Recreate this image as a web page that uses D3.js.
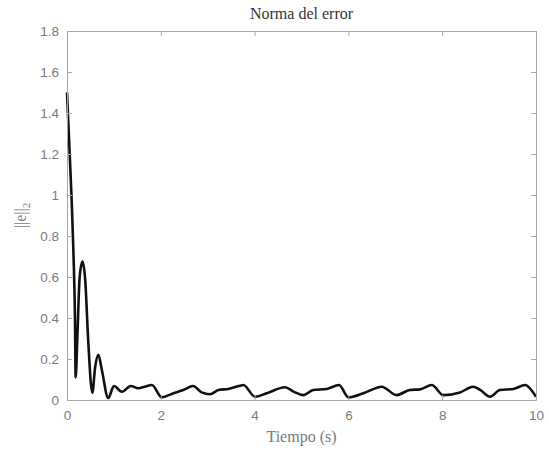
<!DOCTYPE html>
<html><head><meta charset="utf-8">
<script src="https://cdn.jsdelivr.net/npm/d3@7"></script>
<style>body{margin:0;background:#fff}</style>
</head><body>
<svg id="c" width="549" height="457"></svg>
<script>
const title = "Norma del error";
const xLabel = "Tiempo (s)";
const xTicks = [0, 2, 4, 6, 8, 10];
const yTicks = [0, 0.2, 0.4, 0.6, 0.8, 1, 1.2, 1.4, 1.6, 1.8];
const timeValues = [0, 0.05, 0.10, 0.14, 0.17, 0.185, 0.22, 0.27, 0.33, 0.39, 0.45, 0.54, 0.60, 0.67, 0.74, 0.88, 1.0, 1.17, 1.36, 1.52, 1.66, 1.81, 2.02, 2.27, 2.48, 2.69, 2.87, 3.05, 3.23, 3.44, 3.69, 3.76, 4.01, 4.26, 4.65, 4.83, 5.04, 5.25, 5.54, 5.80, 6.0, 6.32, 6.71, 7.03, 7.31, 7.53, 7.78, 8.02, 8.38, 8.66, 8.81, 9.02, 9.23, 9.52, 9.77, 9.87, 10.0];
const errorValues = [1.50, 1.24, 0.97, 0.70, 0.40, 0.11, 0.30, 0.60, 0.675, 0.58, 0.30, 0.035, 0.16, 0.22, 0.15, 0.01, 0.068, 0.04, 0.068, 0.057, 0.065, 0.073, 0.013, 0.033, 0.049, 0.068, 0.037, 0.028, 0.049, 0.054, 0.070, 0.073, 0.016, 0.033, 0.062, 0.041, 0.024, 0.049, 0.054, 0.073, 0.013, 0.033, 0.065, 0.024, 0.049, 0.052, 0.073, 0.024, 0.037, 0.065, 0.049, 0.016, 0.049, 0.054, 0.073, 0.057, 0.016];

const svg = d3.select("#c");
const L = 67, R = 536, T = 31, B = 400;
const x = d3.scaleLinear().domain([0, 10]).range([L, R]);
const y = d3.scaleLinear().domain([0, 1.8]).range([B, T]);
const axisCol = "#a6a6a6", labCol = "#7a7a7a";

svg.append("rect").attr("x", L).attr("y", T).attr("width", R - L).attr("height", B - T)
  .attr("fill", "#fff");

const data = timeValues.map((t, i) => [t, errorValues[i]]);
svg.append("path").datum(data)
  .attr("fill", "none").attr("stroke", "#111").attr("stroke-width", 2.6)
  .attr("stroke-linejoin", "round")
  .attr("d", d3.line().x(d => x(d[0])).y(d => y(d[1])).curve(d3.curveMonotoneX));

function styleAxis(g, noLabels) {
  g.select(".domain").attr("stroke", axisCol);
  g.selectAll(".tick line").attr("stroke", axisCol);
  g.selectAll(".tick text").attr("fill", labCol)
    .attr("font-family", "'Liberation Sans', Arial, sans-serif").attr("font-size", 13.5);
  if (noLabels) g.selectAll(".tick text").remove();
}
const fmt = d => String(d);
svg.append("g").attr("transform", `translate(0,${B})`)
  .call(d3.axisBottom(x).tickValues(xTicks).tickFormat(fmt).tickSizeInner(-5).tickSizeOuter(0).tickPadding(10))
  .call(g => styleAxis(g));
svg.append("g").attr("transform", `translate(0,${T})`)
  .call(d3.axisTop(x).tickValues(xTicks).tickSizeInner(-5).tickSizeOuter(0))
  .call(g => styleAxis(g, true));
svg.append("g").attr("transform", `translate(${L},0)`)
  .call(d3.axisLeft(y).tickValues(yTicks).tickFormat(fmt).tickSizeInner(-5).tickSizeOuter(0).tickPadding(8))
  .call(g => styleAxis(g));
svg.append("g").attr("transform", `translate(${R},0)`)
  .call(d3.axisRight(y).tickValues(yTicks).tickSizeInner(-5).tickSizeOuter(0))
  .call(g => styleAxis(g, true));

const serif = "'Liberation Serif', 'DejaVu Serif', serif";
svg.append("text").attr("x", (L + R) / 2).attr("y", 19).attr("text-anchor", "middle")
  .attr("font-family", serif).attr("font-size", 16)
  .attr("fill", "#333").text(title);
svg.append("text").attr("x", (L + R) / 2).attr("y", 442).attr("text-anchor", "middle")
  .attr("font-family", serif).attr("font-size", 16)
  .attr("fill", labCol).text(xLabel);
const yl = svg.append("text").attr("transform", `translate(26,${(T + B) / 2}) rotate(-90)`)
  .attr("text-anchor", "middle")
  .attr("font-family", serif).attr("font-size", 16)
  .attr("fill", labCol);
yl.append("tspan").text("||e||");
yl.append("tspan").attr("font-size", 11).attr("dy", 4).text("2");
</script>
</body></html>
